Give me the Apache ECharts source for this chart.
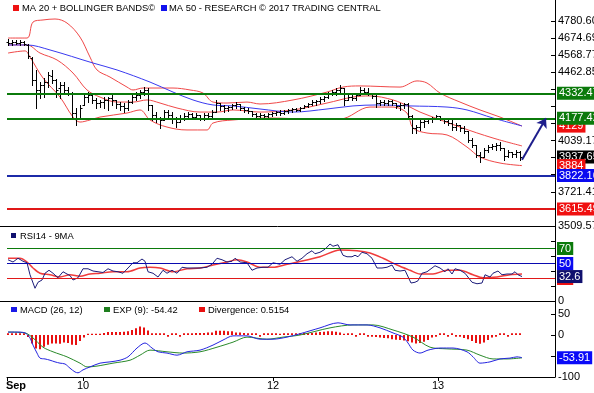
<!DOCTYPE html>
<html><head><meta charset="utf-8">
<script src="https://cdn.jsdelivr.net/npm/echarts@6/dist/echarts.min.js"></script>
<style>html,body{margin:0;padding:0;background:#fff}#c{width:594px;height:393px}</style>
</head><body><div id="c"></div>
<script>
// ---- price bars (OHLC), one per 30-min slot ----
const openP = [4650,4644,4650,4644,4650,4632,4551,4415,4353,4384, 4402,4440,4415,4365,4384,4353,4334,4210,4179,4260, 4309,4322,4291,4272,4278,4291,4303,4291,4266,4254, 4241,4278,4309,4322,4340,4353,4260,4198,4179,4167, 4216,4198,4179,4154,4179,4192,4204,4185,4198,4179, 4198,4192,4216,4272,4254,4241,4247,4260,4266,4241, 4229,4223,4204,4192,4198,4192,4204,4210,4216,4210, 4223,4229,4235,4229,4241,4254,4266,4278,4285,4297, 4309,4328,4340,4353,4365,4291,4309,4303,4322,4353, 4340,4334,4316,4272,4278,4272,4285,4272,4254,4260, 4266,4192,4117,4123,4154,4161,4173,4179,4192,4173, 4161,4148,4123,4136,4117,4099,4043,4012,3950,3937, 3981,3999,4006,4012,3993,3944,3968,3956,3968];
const highP = [4669,4663,4663,4663,4657,4638,4557,4477,4402,4427, 4464,4477,4421,4402,4402,4371,4340,4241,4260,4322, 4340,4334,4303,4291,4309,4309,4322,4291,4278,4272, 4291,4322,4340,4353,4371,4365,4260,4216,4185,4229, 4229,4216,4185,4198,4210,4216,4210,4210,4198,4210, 4210,4229,4291,4272,4260,4254,4266,4278,4266,4247, 4241,4223,4210,4210,4204,4210,4216,4223,4229,4229, 4235,4241,4241,4247,4260,4272,4291,4291,4309,4316, 4340,4353,4365,4384,4365,4322,4322,4334,4371,4365, 4365,4334,4322,4291,4291,4291,4291,4272,4272,4272, 4272,4198,4136,4167,4167,4179,4185,4198,4192,4179, 4167,4179,4148,4136,4130,4099,4055,4012,3968,3993, 4012,4018,4024,4030,3993,3981,3968,3981,3974];
const lowP = [4632,4632,4638,4632,4632,4551,4384,4241,4303,4309, 4371,4396,4309,4303,4340,4322,4185,4136,4179,4260, 4278,4272,4241,4247,4241,4229,4260,4241,4229,4216, 4229,4272,4291,4303,4322,4229,4167,4154,4117,4167, 4179,4148,4123,4154,4167,4185,4173,4179,4167,4167, 4179,4185,4216,4229,4216,4223,4235,4241,4229,4216, 4210,4192,4185,4185,4185,4185,4192,4198,4198,4204, 4210,4216,4223,4223,4241,4247,4260,4260,4272,4285, 4303,4322,4322,4334,4260,4291,4291,4291,4322,4334, 4322,4303,4247,4260,4260,4260,4260,4241,4229,4241, 4179,4086,4086,4105,4123,4148,4154,4179,4167,4148, 4136,4105,4105,4099,4086,4030,3999,3937,3906,3937, 3968,3987,3981,3981,3919,3937,3937,3937,3919];
const closeP = [4644,4650,4644,4650,4638,4564,4415,4353,4384,4402, 4446,4415,4353,4384,4353,4334,4210,4179,4241,4309, 4322,4291,4272,4278,4291,4303,4291,4266,4254,4241, 4278,4309,4322,4340,4353,4260,4198,4179,4167,4216, 4198,4179,4154,4179,4192,4204,4185,4198,4179,4198, 4192,4216,4272,4254,4241,4247,4260,4266,4241,4229, 4223,4204,4192,4198,4192,4204,4210,4216,4210,4223, 4229,4235,4229,4241,4254,4266,4278,4285,4297,4309, 4328,4340,4353,4365,4291,4309,4303,4322,4353,4340, 4334,4316,4272,4278,4272,4285,4272,4254,4260,4266, 4192,4117,4123,4154,4161,4173,4179,4192,4173,4161, 4148,4123,4136,4117,4099,4043,4012,3950,3937,3981, 3999,4006,4012,3993,3944,3968,3956,3968,3937.65];

// ---- overlays [slot, value] ----
const upperBand = [[0,4675],[4.75,4675],[6.25,4774],[8.75,4787],[11.75,4793],[14.75,4768],[18,4681],[20.5,4557],[22.25,4477],[25.5,4433],[29.75,4371],[31.25,4353],[33.75,4365],[41.25,4365],[45.5,4353],[48.75,4334],[51.25,4278],[54.75,4272],[59.75,4278],[63,4266],[71.25,4291],[79.75,4340],[83.75,4371],[88,4378],[98,4371],[102.25,4409],[104.75,4396],[108,4334],[113,4278],[118,4229],[123,4185],[128.5,4129]];
const ma20 = [[0,4632],[4.75,4632],[8,4582],[12.25,4539],[16.25,4458],[19.75,4353],[23,4309],[27.25,4278],[31.25,4278],[34.75,4291],[38,4272],[42.25,4241],[48,4216],[52.25,4216],[56.25,4229],[63,4216],[71.25,4229],[79.75,4272],[86.25,4309],[90.5,4316],[96.25,4291],[100.5,4247],[103,4216],[113,4123],[121.25,4055],[128.5,4006]];
const lowerBand = [[0,4582],[4.25,4595],[5.5,4557],[8.75,4427],[13,4309],[16.25,4185],[18,4154],[20.5,4167],[23,4185],[29.75,4210],[33,4229],[35.5,4167],[39.75,4123],[44.75,4105],[49.75,4105],[51.25,4148],[56.25,4167],[65.5,4179],[75.5,4173],[83,4173],[90.5,4247],[96.25,4247],[99.75,4210],[101.25,4117],[104.75,4086],[109.75,4074],[114.75,3999],[118,3937],[123,3900],[128.5,3884]];
const ma50 = [[0,4632],[4.75,4632],[10.5,4601],[21.25,4520],[27.25,4477],[35.5,4402],[41.25,4340],[46.25,4291],[51.25,4260],[56.25,4254],[63,4235],[71.25,4216],[79.75,4235],[86.25,4254],[92.25,4260],[100.5,4254],[109.75,4247],[114.75,4229],[121.25,4179],[128.5,4130]];

// ---- RSI ----
const rsi14 = [[0,55],[1.25,52],[2.5,57],[3.75,53],[4.75,51],[5.5,35],[6.75,17],[7.5,25],[8.5,28],[9.25,37],[10.25,41],[11.25,37],[12.5,31],[13.75,39],[14.75,36],[15.5,34],[16.25,28],[17.5,31],[18.75,43],[20,43],[21.25,40],[22.5,39],[23.75,38],[25,43],[26.25,40],[27.5,39],[28.75,37],[30,44],[31.25,51],[32.25,51],[33.5,56],[34.25,53],[35,39],[36.25,37],[37.5,32],[38.75,41],[39.75,37],[41,41],[42.25,37],[43.5,45],[44.75,44],[46.25,44],[48,44],[49.75,45],[51,49],[52.25,57],[53.5,55],[54.75,52],[56,53],[56.75,57],[58,52],[59.75,51],[61,41],[62.25,44],[63.75,45],[65,45],[66.25,51],[68,49],[69.25,55],[71,59],[72.25,53],[73.5,57],[74.75,63],[76,67],[76.75,63],[78,65],[79.25,69],[80.5,76],[81.25,73],[82.5,75],[83.75,61],[84.75,59],[86,59],[86.75,61],[87.5,59],[88.5,65],[89.75,63],[91,57],[92.25,44],[93.5,44],[94.75,45],[96,48],[96.75,41],[98,40],[99.25,41],[100.75,24],[101.75,25],[102.5,27],[103.5,37],[104.75,39],[106,44],[106.75,47],[108,44],[109.25,39],[110,43],[111,36],[111.75,43],[113,41],[114.25,37],[116,25],[117.25,23],[118.5,24],[119.25,35],[120.5,32],[121.25,37],[122.5,40],[123.5,35],[124.75,36],[126,36],[126.75,39],[127.5,35],[128.5,32.6]];
const rsiMA = [[0,57],[3,57],[4.75,52],[6.25,44],[8,37],[10.5,35],[13,32],[15.5,35],[18,33],[20.5,36],[23,37],[26.25,39],[29.75,39],[33,44],[35.5,45],[38,44],[41.25,39],[44.75,43],[48,44],[51.25,48],[54.75,52],[57.25,55],[59.75,52],[63,45],[66.25,45],[69.75,49],[72.5,52],[78,59],[83,68],[87.25,67],[90.5,64],[93.75,57],[97.25,48],[100.5,41],[103,36],[106.25,36],[109.75,41],[113,41],[116.25,35],[118.75,31],[122.25,32],[125.5,35],[128.5,36]];

// ---- MACD ----
const macdLine = [[0,7],[2.25,7],[4.25,5],[5.5,-7],[6.25,-24],[7.25,-43],[8,-55],[9.25,-57],[10.5,-60],[11.75,-64],[13,-67],[14.25,-69],[15.5,-79],[16.75,-88],[17.5,-90],[18.75,-83],[20.5,-76],[23,-67],[25.5,-64],[28,-60],[30,-52],[32.25,-31],[34.25,-19],[36,-31],[37.5,-40],[39.75,-43],[42.25,-48],[44.75,-40],[48,-36],[51.25,-24],[53.75,-12],[56.25,-2],[59.75,-2],[63,-10],[66.25,-10],[69.75,-5],[73,3],[78,17],[82.5,29],[85.5,24],[89.75,24],[93,17],[96.25,5],[98.75,-5],[100,-19],[101.25,-36],[103,-43],[105,-36],[108,-31],[111.25,-31],[114.75,-40],[116.25,-52],[118,-67],[120.5,-64],[123,-57],[125.5,-55],[127.25,-52],[128.5,-53.91]];
const signalLine = [[0,7],[4.25,5],[6.25,-7],[8.75,-29],[11.25,-40],[14.75,-52],[18,-67],[19.75,-76],[22.25,-74],[26.25,-67],[30.5,-60],[33,-48],[35.5,-36],[39.75,-40],[43.75,-43],[48,-40],[52.25,-29],[56.25,-17],[59.75,-5],[64.75,-10],[68.75,-5],[73,0],[80.5,17],[86.25,24],[91.25,24],[96.25,12],[101.25,-5],[105.5,-29],[109.75,-33],[114.75,-36],[118,-48],[121.25,-57],[124.75,-57],[128.5,-54.42]];
const divergence = [4,4,4,4,4,-5,-20,-32,-34,-28, -23,-20,-20,-21,-18,-19,-23,-24,-14,-6, 3,3,3,3,5,7,7,7,7,8, 9,12,16,20,18,11,4,4,4,4, -4,4,4,-4,4,4,4,5,5,5, 6,6,10,10,10,9,9,6,6,5, 4,4,4,-4,4,4,4,4,3,4, 4,4,4,4,5,5,5,6,7,8, 9,9,8,6,3,4,4,-4,4,4, -4,-4,-5,-6,-7,-8,-10,-11,-12,-13, -15,-18,-20,-19,-16,-12,-6,-4,4,4, -4,4,-4,-4,-7,-10,-14,-19,-21,-18, -12,-6,-4,4,4,-4,4,4,4];

// ---- levels & axis ticks ----
const mainTicks = [3509.57,3615.49,3721.41,3827.33,3933.25,4039.17,4145.09,4251.01,4356.93,4462.85,4568.77,4674.69,4780.60];
const mainShownLabels = [3509.57,3721.41,4039.17,4462.85,4568.77,4674.69,4780.60];
const resistance = [4332.47, 4177.42];
const supportBlue = 3822.16, supportRed = 3615.49;
const lastClose = 3937.65, lastUpper = 4129, lastLower = 3884;
const arrowFrom = [128.5, 3920], arrowTo = [134.5, 4177.42];
const rsiLevels = [70, 50, 30];
const rsiTicks = [20, 40, 60, 80];
const rsiLast = 32.6, macdLast = -53.91;
const macdTicks = [50, 0, -50, -100];
const macdShownLabels = [50, 0, -100];
const dayTicks = [-0.25, 18.75, 66.25, 107.5];
const dayLabels = ['Sep', '10', '12', '13'];

const ohlc = openP.map((o, i) => [i, o, highP[i], lowP[i], closeP[i]]);
const histData = divergence.map((v, i) => [i, v]);

const FONT = 'Liberation Sans';
const CLEAR = 'rgba(0,0,0,0)';
function tag(text, bg) {
  return {show: true, position: 'end', distance: 2, formatter: text, backgroundColor: bg,
    color: '#fff', fontSize: 11, fontFamily: FONT, padding: [1, 2, 0, 2], lineHeight: 12};
}
const noLine = {color: CLEAR, width: 1, type: 'solid'};

function renderOHLC(params, api) {
  const x = api.value(0);
  const h = api.coord([x, api.value(2)]), l = api.coord([x, api.value(3)]);
  const o = api.coord([x, api.value(1)]), c = api.coord([x, api.value(4)]);
  const px = Math.round(h[0]) + 0.5;
  const oy = Math.round(o[1]) + 0.5, cy = Math.round(c[1]) + 0.5;
  const st = {stroke: '#000', lineWidth: 1};
  return {type: 'group', children: [
    {type: 'line', shape: {x1: px, y1: Math.round(h[1]), x2: px, y2: Math.round(l[1]) + 1}, style: st},
    {type: 'line', shape: {x1: px - 2, y1: oy, x2: px, y2: oy}, style: st},
    {type: 'line', shape: {x1: px, y1: cy, x2: px + 2, y2: cy}, style: st}
  ]};
}

const xBase = {type: 'value', min: -0.25, max: 136.75, show: false};
const gridBase = {left: 7, right: 39, containLabel: false, outerBoundsMode: 'none'};
const tickStyle = {show: true, inside: true, length: 4, lineStyle: {color: '#000'}};
const chart = echarts.init(document.getElementById('c'), null, {renderer: 'canvas'});
chart.setOption({
  animation: false,
  backgroundColor: '#fff',
  textStyle: {fontFamily: FONT},
  grid: [
    Object.assign({top: 0, height: 226}, gridBase),
    Object.assign({top: 226, height: 75}, gridBase),
    Object.assign({top: 301, height: 76}, gridBase)
  ],
  xAxis: [
    Object.assign({gridIndex: 0}, xBase),
    Object.assign({gridIndex: 1}, xBase),
    {gridIndex: 2, type: 'value', min: -0.25, max: 136.75,
      axisLine: {show: true, onZero: false, lineStyle: {color: '#000', width: 1}},
      axisTick: {show: true, length: 4, customValues: dayTicks, lineStyle: {color: '#000'}},
      splitLine: {show: false},
      axisLabel: {show: true, customValues: dayTicks, margin: 3, color: '#000', fontSize: 11, fontFamily: FONT,
        formatter: function (v) {
          let k = 0, best = 1e9;
          dayTicks.forEach((t, i) => { if (Math.abs(t - v) < best) { best = Math.abs(t - v); k = i; } });
          return k === 0 ? '{b|' + dayLabels[0] + '}' : dayLabels[k];
        },
        rich: {b: {fontWeight: 'bold', fontSize: 11, fontFamily: FONT, color: '#000', padding: [0, 0, 0, 18]}}
      }
    }
  ],
  yAxis: [
    {gridIndex: 0, type: 'value', position: 'right', min: 3509.57, max: 4910.8,
      axisLine: {show: true, onZero: false, lineStyle: {color: '#000'}},
      axisTick: Object.assign({customValues: mainTicks}, tickStyle),
      splitLine: {show: false},
      axisLabel: {show: true, customValues: mainShownLabels, margin: 3, color: '#000', fontSize: 11, fontFamily: FONT,
        formatter: v => Number(v).toFixed(2)}
    },
    {gridIndex: 1, type: 'value', position: 'right', min: 0, max: 100,
      axisLine: {show: true, onZero: false, lineStyle: {color: '#000'}},
      axisTick: Object.assign({customValues: rsiTicks}, tickStyle),
      splitLine: {show: false},
      axisLabel: {show: true, customValues: [0], margin: 3, color: '#000', fontSize: 11, fontFamily: FONT}
    },
    {gridIndex: 2, type: 'value', position: 'right', min: -100, max: 81,
      axisLine: {show: true, onZero: false, lineStyle: {color: '#000'}},
      axisTick: Object.assign({customValues: macdTicks}, tickStyle),
      splitLine: {show: false},
      axisLabel: {show: true, customValues: macdShownLabels, margin: 3, color: '#000', fontSize: 11, fontFamily: FONT}
    }
  ],
  series: [
    {type: 'line', name: 'upper', xAxisIndex: 0, yAxisIndex: 0, data: upperBand, smooth: 0.35, showSymbol: false, z: 2,
      lineStyle: {color: '#f04848', width: 1}},
    {type: 'line', name: 'ma20', xAxisIndex: 0, yAxisIndex: 0, data: ma20, smooth: 0.35, showSymbol: false, z: 2,
      lineStyle: {color: '#f04848', width: 1}},
    {type: 'line', name: 'lower', xAxisIndex: 0, yAxisIndex: 0, data: lowerBand, smooth: 0.35, showSymbol: false, z: 2,
      lineStyle: {color: '#f04848', width: 1}},
    {type: 'line', name: 'ma50', xAxisIndex: 0, yAxisIndex: 0, data: ma50, smooth: 0.35, showSymbol: false, z: 2,
      lineStyle: {color: '#3a3af0', width: 1}},
    {type: 'custom', name: 'price', xAxisIndex: 0, yAxisIndex: 0, data: ohlc, renderItem: renderOHLC, z: 3,
      dimensions: ['x', 'o', 'h', 'l', 'c'], encode: {x: 0, y: [1, 2, 3, 4]}},
    {type: 'line', name: 'levels', xAxisIndex: 0, yAxisIndex: 0, data: [], z: 5,
      markLine: {silent: true, symbol: ['none', 'none'], animation: false,
        data: [
          {yAxis: lastClose, lineStyle: noLine, label: tag(String(lastClose), '#000000')},
          {yAxis: lastLower, lineStyle: noLine, label: tag(String(lastLower), '#f01010')},
          {yAxis: lastUpper, lineStyle: noLine, label: tag(String(lastUpper), '#f01010')},
          {yAxis: resistance[1], lineStyle: {color: '#0b7a0b', width: 2, type: 'solid'}, label: tag(resistance[1].toFixed(2), '#0b7a0b')},
          {yAxis: resistance[0], lineStyle: {color: '#0b7a0b', width: 2, type: 'solid'}, label: tag(resistance[0].toFixed(2), '#0b7a0b')},
          {yAxis: supportBlue, lineStyle: {color: '#1c2aa8', width: 2, type: 'solid'}, label: tag(supportBlue.toFixed(2), '#0a0af0')},
          {yAxis: supportRed, lineStyle: {color: '#e01818', width: 2, type: 'solid'}, label: tag(supportRed.toFixed(2), '#f01010')}
        ]}},
    {type: 'line', name: 'arrow', xAxisIndex: 0, yAxisIndex: 0, data: [], z: 6,
      markLine: {silent: true, symbol: ['none', 'arrow'], symbolSize: 9, animation: false,
        lineStyle: {color: '#1e1e8c', width: 2, type: 'solid'}, label: {show: false},
        data: [[{coord: arrowFrom}, {coord: arrowTo}]]}},

    {type: 'line', name: 'rsiMA', xAxisIndex: 1, yAxisIndex: 1, data: rsiMA, smooth: 0.3, showSymbol: false, z: 3,
      lineStyle: {color: '#f03c3c', width: 1.5}},
    {type: 'line', name: 'rsi', xAxisIndex: 1, yAxisIndex: 1, data: rsi14, showSymbol: false, z: 4,
      lineStyle: {color: '#1c1c7a', width: 1}},
    {type: 'line', name: 'rsiLevels', xAxisIndex: 1, yAxisIndex: 1, data: [], z: 2,
      markLine: {silent: true, symbol: ['none', 'none'], animation: false,
        data: [
          {yAxis: rsiLevels[0], lineStyle: {color: '#0b7a0b', width: 1, type: 'solid'}, label: tag(String(rsiLevels[0]), '#0b7a0b')},
          {yAxis: rsiLevels[1], lineStyle: {color: '#0a0ab0', width: 1, type: 'solid'}, label: tag(String(rsiLevels[1]), '#0a0af0')},
          {yAxis: rsiLevels[2], lineStyle: {color: '#e01818', width: 1, type: 'solid'}, label: tag(String(rsiLevels[2]), '#f01010')},
          {yAxis: rsiLast, lineStyle: noLine, label: tag(String(rsiLast), '#10106e')}
        ]}},

    {type: 'bar', name: 'divergence', xAxisIndex: 2, yAxisIndex: 2, data: histData, barWidth: 2, z: 2,
      itemStyle: {color: '#e81010'}},
    {type: 'line', name: 'signal', xAxisIndex: 2, yAxisIndex: 2, data: signalLine, smooth: 0.3, showSymbol: false, z: 3,
      lineStyle: {color: '#2a8a2a', width: 1}},
    {type: 'line', name: 'macd', xAxisIndex: 2, yAxisIndex: 2, data: macdLine, smooth: 0.3, showSymbol: false, z: 4,
      lineStyle: {color: '#2424e0', width: 1},
      markLine: {silent: true, symbol: ['none', 'none'], animation: false,
        data: [{yAxis: macdLast, lineStyle: noLine, label: tag(macdLast.toFixed(2), '#0a0af8')}]}}
  ],
  graphic: [
    {type: 'line', shape: {x1: 0, y1: 226.5, x2: 555, y2: 226.5}, style: {stroke: '#000', lineWidth: 1}, silent: true},
    {type: 'line', shape: {x1: 0, y1: 301.5, x2: 555, y2: 301.5}, style: {stroke: '#000', lineWidth: 1}, silent: true},
    {type: 'rect', shape: {x: 13, y: 5, width: 6, height: 6}, style: {fill: '#ee1111'}, silent: true},
    {type: 'text', x: 22, y: 8.5, silent: true, style: {text: 'MA 20 + BOLLINGER BANDS©', fill: '#000', font: '9.4px "Liberation Sans"', verticalAlign: 'middle'}},
    {type: 'rect', shape: {x: 161, y: 5, width: 6, height: 6}, style: {fill: '#1111ee'}, silent: true},
    {type: 'text', x: 169, y: 8.5, silent: true, style: {text: 'MA 50 - RESEARCH © 2017 TRADING CENTRAL', fill: '#000', font: '9.4px "Liberation Sans"', verticalAlign: 'middle'}},
    {type: 'rect', shape: {x: 11, y: 233, width: 5, height: 5}, style: {fill: '#10106e'}, silent: true},
    {type: 'text', x: 20, y: 236, silent: true, style: {text: 'RSI14 - 9MA', fill: '#000', font: '9.4px "Liberation Sans"', verticalAlign: 'middle'}},
    {type: 'rect', shape: {x: 11, y: 307, width: 6, height: 5}, style: {fill: '#1a1ae8'}, silent: true},
    {type: 'text', x: 20, y: 310, silent: true, style: {text: 'MACD (26, 12)', fill: '#000', font: '9.4px "Liberation Sans"', verticalAlign: 'middle'}},
    {type: 'rect', shape: {x: 104, y: 307, width: 6, height: 5}, style: {fill: '#1e7e1e'}, silent: true},
    {type: 'text', x: 113, y: 310, silent: true, style: {text: 'EXP (9): -54.42', fill: '#000', font: '9.4px "Liberation Sans"', verticalAlign: 'middle'}},
    {type: 'rect', shape: {x: 199, y: 307, width: 6, height: 5}, style: {fill: '#e81010'}, silent: true},
    {type: 'text', x: 208, y: 310, silent: true, style: {text: 'Divergence: 0.5154', fill: '#000', font: '9.4px "Liberation Sans"', verticalAlign: 'middle'}}
  ]
});
</script>
</body></html>
